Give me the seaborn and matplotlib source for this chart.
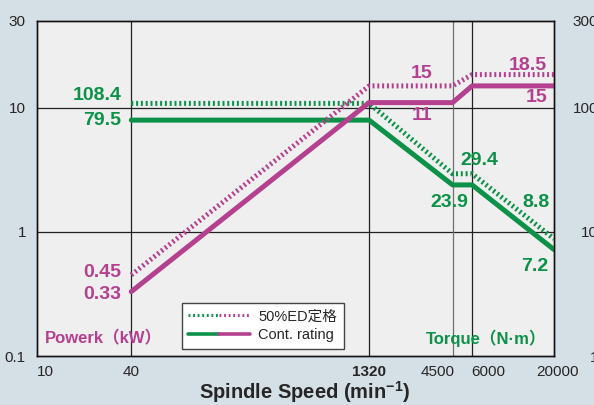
import numpy as np
import pandas as pd
import matplotlib
matplotlib.use("Agg")
import matplotlib.pyplot as plt
import seaborn as sns
from matplotlib.lines import Line2D
from matplotlib.legend_handler import HandlerTuple
from matplotlib.transforms import ScaledTranslation

# --- data ---
speed = [40, 1320, 4500, 6000, 20000]
power_ed = [0.45, 15, 15, 18.5, 18.5]      # kW, 50%ED
power_cont = [0.33, 11, 11, 15, 15]        # kW, continuous
torque_ed = [108.4, 108.4, 29.4, 29.4, 8.8]  # N*m, 50%ED
torque_cont = [79.5, 79.5, 23.9, 23.9, 7.2]  # N*m, continuous

x_ticks = [10, 40, 1320, 4500, 6000, 20000]
x_ticklabels = ["10", "40", "1320", "4500", "6000", "20000"]
# the top of the reference axis sits at 50 but is labelled 30 / 300
power_ticks = [0.1, 1, 10, 50]
power_ticklabels = ["0.1", "1", "10", "30"]
torque_ticks = [1, 10, 100, 500]
torque_ticklabels = ["1", "10", "100", "300"]

GREEN = "#0c9148"
MAGENTA = "#b4408f"
BG = "#d5dfe6"
PANEL = "#efefef"
DOT = (0, (0.4, 0.56))

sns.set_style("white")
plt.rcParams["font.family"] = ["Liberation Sans", "Noto Sans CJK JP", "DejaVu Sans"]
plt.rcParams["mathtext.fontset"] = "custom"
plt.rcParams["mathtext.rm"] = "Liberation Sans"
plt.rcParams["mathtext.bf"] = "Liberation Sans:bold"

fig = plt.figure(figsize=(5.94, 4.05), dpi=100, facecolor=BG)
ax = fig.add_axes([37 / 594, 1 - 356 / 405, 517 / 594, 335 / 405])
ax.set_facecolor(PANEL)
ax2 = ax.twinx()

df_p = pd.DataFrame({"speed": speed, "ed": power_ed, "cont": power_cont})
df_t = pd.DataFrame({"speed": speed, "ed": torque_ed, "cont": torque_cont})

for a in (ax, ax2):
    a.set_xscale("log")
    a.set_yscale("log")
ax.set_xlim(10, 20000)
ax.set_ylim(0.1, 50)
ax2.set_ylim(1, 500)

# grid lines
for yv in (1, 10):
    ax.axhline(yv, color="#222222", lw=0.9, zorder=1)
for xv, c in ((40, "#222222"), (1320, "#222222"), (4500, "#707070"), (6000, "#222222")):
    ax.axvline(xv, color=c, lw=0.9, zorder=1)

lw = 3.6
sns.lineplot(data=df_t, x="speed", y="ed", ax=ax2, color=GREEN, lw=lw,
             linestyle=DOT, errorbar=None)
sns.lineplot(data=df_t, x="speed", y="cont", ax=ax2, color=GREEN, lw=lw,
             errorbar=None)
sns.lineplot(data=df_p, x="speed", y="ed", ax=ax2, color=MAGENTA, lw=lw,
             linestyle=DOT, errorbar=None, transform=ax.transData)
sns.lineplot(data=df_p, x="speed", y="cont", ax=ax2, color=MAGENTA, lw=lw,
             errorbar=None, transform=ax.transData)

# ticks
ax.set_xticks(x_ticks)
ax.set_xticklabels(x_ticklabels)
ax.xaxis.set_minor_locator(matplotlib.ticker.NullLocator())
ax.set_yticks(power_ticks)
ax.set_yticklabels(power_ticklabels)
ax.yaxis.set_minor_locator(matplotlib.ticker.NullLocator())
ax2.set_yticks(torque_ticks)
ax2.set_yticklabels(torque_ticklabels)
ax2.yaxis.set_minor_locator(matplotlib.ticker.NullLocator())
ax.tick_params(axis="x", length=0, pad=6.5, labelsize=11)
ax.tick_params(axis="y", length=0, pad=8, labelsize=11)
ax2.tick_params(axis="y", length=0, pad=31.7, labelsize=11)
for lab in ax2.get_yticklabels():
    lab.set_ha("right")
ax.set_ylabel("")
ax2.set_ylabel("")

shift = {"10": 5.8, "4500": -10.8, "6000": 11.5, "20000": 2.2}
for lab in ax.get_xticklabels():
    t = lab.get_text()
    if t == "1320":
        lab.set_fontweight("bold")
    if t in shift:
        lab.set_transform(lab.get_transform() + ScaledTranslation(shift[t] / 72, 0, fig.dpi_scale_trans))

ax.set_xlabel(r"Spindle Speed (min$^{\mathbf{-1}}$)", fontsize=14.5, fontweight="bold")
ax.xaxis.set_label_coords(0.518, -0.107)
ax.xaxis.label.set_va("center")

for a in (ax, ax2):
    for s in a.spines.values():
        s.set_color("#111111")
        s.set_linewidth(1.0)
ax2.patch.set_visible(False)

# value labels
def note(a, x, y, text, dx, dy, color, ha):
    a.annotate(text, xy=(x, y), xytext=(dx, dy), textcoords="offset points",
               ha=ha, va="center", color=color, fontsize=14, fontweight="bold")

note(ax2, 40, torque_ed[0], "108.4", -7.2, 5.5, GREEN, "right")
note(ax2, 40, torque_cont[0], "79.5", -7.2, 0, GREEN, "right")
note(ax2, 4500, torque_ed[2], "29.4", 19.4, 9.4, GREEN, "center")
note(ax2, 4500, torque_cont[2], "23.9", -2.2, -12.6, GREEN, "center")
note(ax2, 20000, torque_ed[4], "8.8", -2.9, 26.3, GREEN, "right")
note(ax2, 20000, torque_cont[4], "7.2", -4.3, -12.5, GREEN, "right")

note(ax, 40, power_ed[0], "0.45", -7.2, 1.4, MAGENTA, "right")
note(ax, 40, power_cont[0], "0.33", -7.2, -1.8, MAGENTA, "right")
note(ax, 4500, power_ed[2], "15", -22, 8.6, MAGENTA, "center")
note(ax, 4500, power_cont[2], "11", -22, -9.4, MAGENTA, "center")
note(ax, 20000, power_ed[4], "18.5", -5, 6.5, MAGENTA, "right")
note(ax, 20000, power_cont[4], "15", -5, -8.6, MAGENTA, "right")

ax.text(0.0155, 0.054, "Powerk（kW）", transform=ax.transAxes, ha="left", va="center",
        color=MAGENTA, fontsize=12, fontweight="bold")
ax.text(0.9845, 0.054, "Torque（N·m）", transform=ax.transAxes, ha="right", va="center",
        color=GREEN, fontsize=12, fontweight="bold")

# legend with two-coloured handles
h_ed = (Line2D([], [], color=GREEN, lw=2.2, linestyle=(0, (0.6, 0.9))),
        Line2D([], [], color=MAGENTA, lw=2.2, linestyle=(0, (0.6, 0.9))))
h_cont = (Line2D([], [], color=GREEN, lw=2.6), Line2D([], [], color=MAGENTA, lw=2.6))
leg = ax2.legend([h_ed, h_cont], ["50%ED定格", "Cont. rating"],
                 handler_map={tuple: HandlerTuple(ndivide=None, pad=0)},
                 loc="lower left", bbox_to_anchor=(0.28, 0.021), borderaxespad=0,
                 fontsize=10.5, handlelength=4.2, handletextpad=0.6,
                 fancybox=False, frameon=True, framealpha=1, edgecolor="#444444",
                 borderpad=0.45, labelspacing=0.35)
leg.get_frame().set_linewidth(1.0)
leg.get_frame().set_facecolor("white")

fig.savefig("out.png", dpi=100, facecolor=BG)
